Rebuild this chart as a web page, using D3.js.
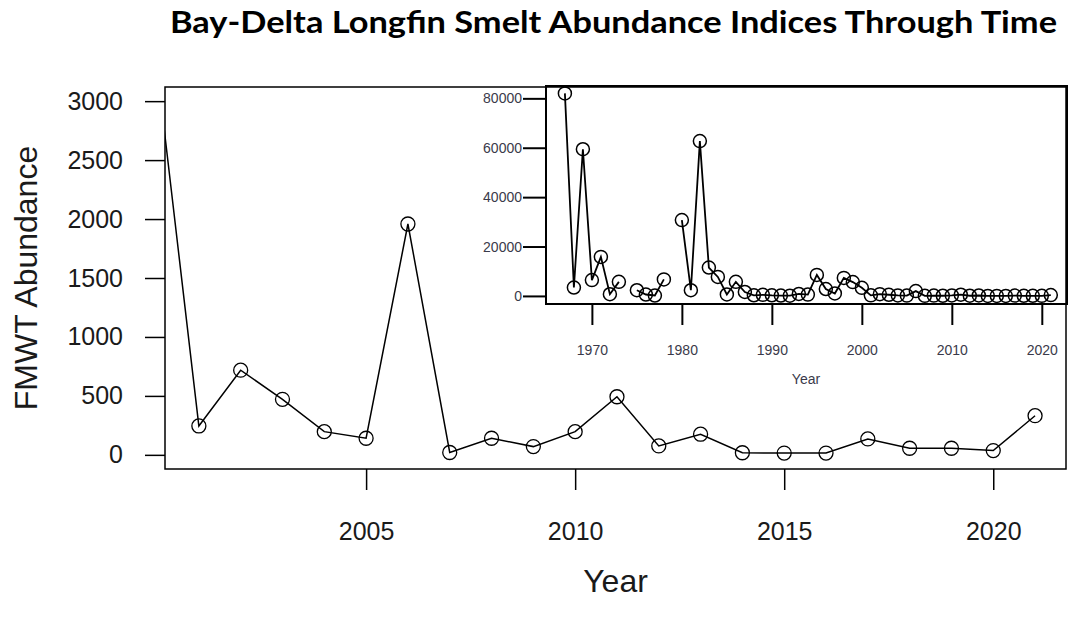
<!DOCTYPE html>
<html>
<head>
<meta charset="utf-8">
<script src="https://cdn.jsdelivr.net/npm/d3@7"></script>
<style>
  body { margin: 0; background: #fff; }
  text { font-family: "Liberation Sans", Arial, sans-serif; fill: #1a1a1a; }
</style>
</head>
<body>
<svg width="1072" height="627"></svg>
<script>
// FMWT longfin smelt index
const earlyYears = [1967, 1968, 1969, 1970, 1971, 1972, 1973, 1974, 1975, 1976, 1977, 1978, 1979,
  1980, 1981, 1982, 1983, 1984, 1985, 1986, 1987, 1988, 1989, 1990, 1991, 1992, 1993, 1994,
  1995, 1996, 1997, 1998, 1999];
const earlyIndex = [82000, 3400, 59400, 6400, 15800, 700, 5700, null, 2300, 570, 170, 6700, null,
  30700, 2300, 62700, 11500, 7700, 600, 5700, 1600, 250, 450, 250, 150, 100, 800, 550,
  8500, 2800, 1000, 7300, 5600];

const recentYears = [2000, 2001, 2002, 2003, 2004, 2005, 2006, 2007, 2008, 2009, 2010,
  2011, 2012, 2013, 2014, 2015, 2016, 2017, 2018, 2019, 2020, 2021];
const recentIndex = [3280, 245, 718, 471, 197, 141, 1958, 20, 141, 70, 197,
  493, 76, 175, 18, 15, 15, 135, 56, 56, 36, 332];

const mainYTicks = [0, 500, 1000, 1500, 2000, 2500, 3000];
const mainXTicks = [2005, 2010, 2015, 2020];
const insetYTicks = [0, 20000, 40000, 60000, 80000];
const insetXTicks = [1970, 1980, 1990, 2000, 2010, 2020];

const titleText = "Bay-Delta Longfin Smelt Abundance Indices Through Time";

const svg = d3.select("svg");

const recent = recentYears.map((y, i) => ({ year: y, v: recentIndex[i] }));
const all = earlyYears.map((y, i) => ({ year: y, v: earlyIndex[i] })).concat(recent);

// title
svg.append("text")
  .attr("x", 170).attr("y", 33)
  .attr("textLength", 887).attr("lengthAdjust", "spacingAndGlyphs")
  .style("font-family", "Lato, 'Open Sans', sans-serif")
  .style("font-weight", 700).style("font-size", "31px").style("fill", "#000")
  .text(titleText);

// ---- main plot ----
const m = { left: 165, right: 1066, top: 87, bottom: 469 };
const x = d3.scaleLinear().domain([2000.19, 2021.74]).range([m.left, m.right]);
const y = d3.scaleLinear().domain([-120, 3120]).range([m.bottom, m.top]);

svg.append("clipPath").attr("id", "mainclip")
  .append("rect").attr("x", m.left).attr("y", m.top)
  .attr("width", m.right - m.left).attr("height", m.bottom - m.top);

const main = svg.append("g");

const yAx = main.append("g").attr("transform", `translate(${m.left},0)`)
  .call(d3.axisLeft(y).tickValues(mainYTicks).tickSize(20).tickPadding(22).tickFormat(d3.format("d")));
const xAx = main.append("g").attr("transform", `translate(0,${m.bottom})`)
  .call(d3.axisBottom(x).tickValues(mainXTicks).tickSize(21).tickPadding(32).tickFormat(d3.format("d")));
[yAx, xAx].forEach(a => {
  a.select(".domain").remove();
  a.selectAll("line").attr("stroke", "#000").attr("stroke-width", 1.5);
  a.selectAll("text").style("font-size", "25px").style("fill", "#1a1a1a");
});

const lineMain = d3.line().defined(d => d.v != null).x(d => x(d.year)).y(d => y(d.v));
const plotMain = main.append("g").attr("clip-path", "url(#mainclip)");
plotMain.append("path").datum(recent)
  .attr("d", lineMain).attr("fill", "none").attr("stroke", "#000").attr("stroke-width", 1.5);
plotMain.selectAll("circle").data(recent).join("circle")
  .attr("cx", d => x(d.year)).attr("cy", d => y(d.v)).attr("r", 7)
  .attr("fill", "none").attr("stroke", "#000").attr("stroke-width", 1.3);

main.append("rect").attr("x", m.left).attr("y", m.top)
  .attr("width", m.right - m.left).attr("height", m.bottom - m.top)
  .attr("fill", "none").attr("stroke", "#000").attr("stroke-width", 1.5);

main.append("text")
  .attr("transform", `translate(37,${(m.top + m.bottom) / 2}) rotate(-90)`)
  .attr("text-anchor", "middle").style("font-size", "32px")
  .text("FMWT Abundance");
main.append("text")
  .attr("x", (m.left + m.right) / 2).attr("y", 592)
  .attr("text-anchor", "middle").style("font-size", "32px")
  .text("Year");

// ---- inset plot ----
const n = { left: 546, right: 1067, top: 86, bottom: 304 };
const xi = d3.scaleLinear().domain([1964.9, 2022.8]).range([n.left, n.right]);
const yi = d3.scaleLinear().domain([-3270, 85000]).range([n.bottom, n.top]);

const inset = svg.append("g");
const yiAx = inset.append("g").attr("transform", `translate(${n.left},0)`)
  .call(d3.axisLeft(yi).tickValues(insetYTicks).tickSize(23).tickPadding(1).tickFormat(d3.format("d")));
const xiAx = inset.append("g").attr("transform", `translate(0,${n.bottom})`)
  .call(d3.axisBottom(xi).tickValues(insetXTicks).tickSize(21).tickPadding(20).tickFormat(d3.format("d")));
[yiAx, xiAx].forEach(a => {
  a.select(".domain").remove();
  a.selectAll("line").attr("stroke", "#000").attr("stroke-width", 2);
  a.selectAll("text").style("font-size", "14px").style("fill", "#3a3a4a");
});

const lineInset = d3.line().defined(d => d.v != null).x(d => xi(d.year)).y(d => yi(d.v));
inset.append("path").datum(all)
  .attr("d", lineInset).attr("fill", "none").attr("stroke", "#000").attr("stroke-width", 1.8);
inset.selectAll("circle").data(all.filter(d => d.v != null)).join("circle")
  .attr("cx", d => xi(d.year)).attr("cy", d => yi(d.v)).attr("r", 6.5)
  .attr("fill", "none").attr("stroke", "#000").attr("stroke-width", 1.5);

inset.append("rect").attr("x", n.left).attr("y", n.top)
  .attr("width", n.right - n.left).attr("height", n.bottom - n.top)
  .attr("fill", "none").attr("stroke", "#000").attr("stroke-width", 2);

inset.append("text")
  .attr("x", 806).attr("y", 384)
  .attr("text-anchor", "middle").style("font-size", "14px").style("fill", "#3a3a4a")
  .text("Year");
</script>
</body>
</html>
